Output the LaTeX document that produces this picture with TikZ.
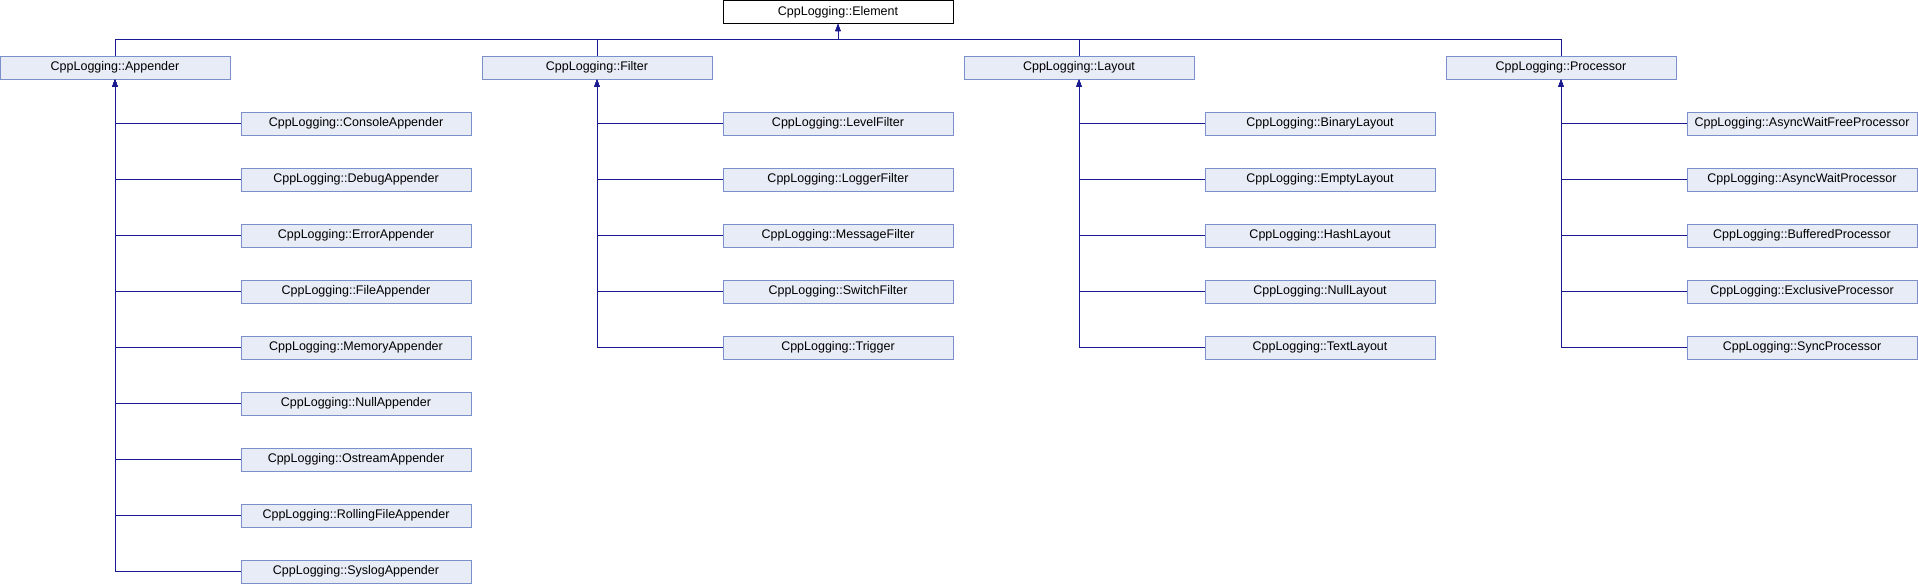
\documentclass[tikz,border=0pt]{standalone}
\usepackage{fontspec}
\setmainfont{Liberation Sans}
\usetikzlibrary{arrows.meta}
\definecolor{boxfill}{HTML}{E8ECF6}
\definecolor{boxline}{HTML}{7B8FCB}
\definecolor{edgecol}{HTML}{191990}
\begin{document}
\begin{tikzpicture}[x=1pt,y=-1pt,
  cls/.style={draw=boxline,fill=boxfill,line width=1pt,minimum width=230pt,minimum height=23pt,inner sep=0pt,font=\fontsize{12.5}{14}\selectfont},
  root/.style={cls,draw=black,fill=white},
  inh/.style={draw=edgecol,line width=1pt,-{Triangle[length=7pt,width=5pt]}}]
\useasboundingbox (0,0) rectangle (1918,584);
\node[root] (el) at (838,12) {CppLogging::Element};
\node[cls] (ap) at (115,67.5) {CppLogging::Appender};
\node[cls] (fi) at (597,67.5) {CppLogging::Filter};
\node[cls] (la) at (1079,67.5) {CppLogging::Layout};
\node[cls] (pr) at (1561,67.5) {CppLogging::Processor};
\foreach \p in {ap,fi,la,pr}{
  \draw[inh] (\p.north) -- ++(0,-16) -| (el.south);
}
\foreach \n [count=\i from 0] in {ConsoleAppender,DebugAppender,ErrorAppender,FileAppender,MemoryAppender,NullAppender,OstreamAppender,RollingFileAppender,SyslogAppender}{
  \node[cls] (ap\i) at (356,123.5+56*\i) {CppLogging::\n};
  \draw[inh] (ap\i.west) -| (ap.south);
}
\foreach \n [count=\i from 0] in {LevelFilter,LoggerFilter,MessageFilter,SwitchFilter,Trigger}{
  \node[cls] (fi\i) at (838,123.5+56*\i) {CppLogging::\n};
  \draw[inh] (fi\i.west) -| (fi.south);
}
\foreach \n [count=\i from 0] in {BinaryLayout,EmptyLayout,HashLayout,NullLayout,TextLayout}{
  \node[cls] (la\i) at (1320,123.5+56*\i) {CppLogging::\n};
  \draw[inh] (la\i.west) -| (la.south);
}
\foreach \n [count=\i from 0] in {AsyncWaitFreeProcessor,AsyncWaitProcessor,BufferedProcessor,ExclusiveProcessor,SyncProcessor}{
  \node[cls] (pr\i) at (1802,123.5+56*\i) {CppLogging::\n};
  \draw[inh] (pr\i.west) -| (pr.south);
}
\end{tikzpicture}
\end{document}
